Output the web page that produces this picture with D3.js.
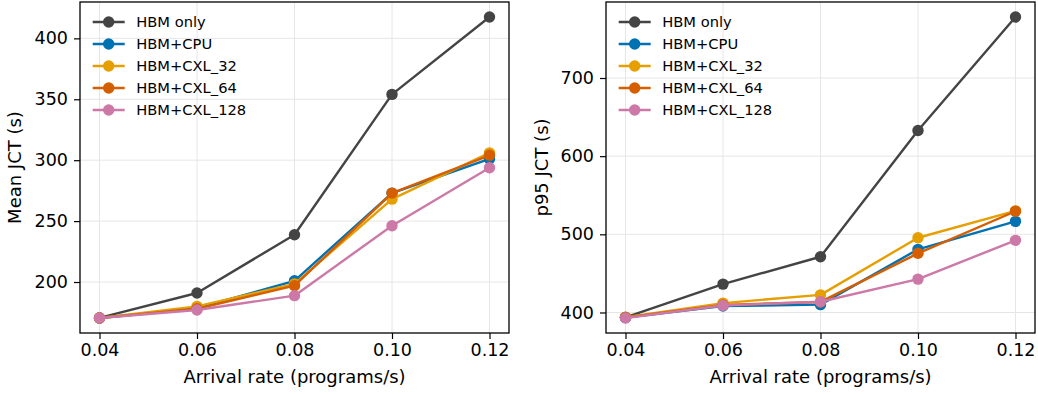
<!DOCTYPE html>
<html>
<head>
<meta charset="utf-8">
<script src="https://cdn.jsdelivr.net/npm/d3@7/dist/d3.min.js"></script>
<style>
  html, body { margin: 0; padding: 0; background: #fff; }
  svg { display: block; font-family: "DejaVu Sans", sans-serif; }
</style>
</head>
<body>
<svg id="chart" width="1038" height="394"></svg>
<script>
// ---- Data ----
const arrivalRates = [0.04, 0.06, 0.08, 0.10, 0.12];
const seriesNames = ["HBM only", "HBM+CPU", "HBM+CXL_32", "HBM+CXL_64", "HBM+CXL_128"];
const seriesColors = ["#444444", "#0072B2", "#E69F00", "#D55E00", "#CC79A7"];

const meanHBMOnly = [170.5, 191, 238.8, 354, 417.5];
const meanHBMCPU  = [170.5, 178.5, 201, 273, 301];
const meanCXL32   = [170.5, 180, 198.5, 268, 306];
const meanCXL64   = [170.5, 178, 197, 273, 304];
const meanCXL128  = [170.5, 177, 188.8, 246.2, 293.8];

const p95HBMOnly = [393.6, 436.3, 471.3, 632.8, 778];
const p95HBMCPU  = [393.6, 408.3, 410, 480.8, 516.6];
const p95CXL32   = [394, 412, 422.5, 495.6, 530];
const p95CXL64   = [393.8, 409.5, 413.5, 475.7, 529.5];
const p95CXL128  = [393, 409, 413.7, 442.7, 492.3];

const xTicks = [0.04, 0.06, 0.08, 0.10, 0.12];
const meanYTicks = [200, 250, 300, 350, 400];
const p95YTicks = [400, 500, 600, 700];

const panels = [
  { ylabel: "Mean JCT (s)", series: [meanHBMOnly, meanHBMCPU, meanCXL32, meanCXL64, meanCXL128], yTicks: meanYTicks, left: 80 },
  { ylabel: "p95 JCT (s)", series: [p95HBMOnly, p95HBMCPU, p95CXL32, p95CXL64, p95CXL128], yTicks: p95YTicks, left: 606 }
];

// ---- Drawing ----
const svg = d3.select("#chart");
const plotTop = 2, plotBottom = 333, plotWidth = 429;

function padded(ext) {
  const m = (ext[1] - ext[0]) * 0.05;
  return [ext[0] - m, ext[1] + m];
}

panels.forEach(p => {
  const g = svg.append("g").attr("transform", `translate(${p.left},0)`);
  const x = d3.scaleLinear().domain(padded(d3.extent(arrivalRates))).range([0, plotWidth]);
  const allY = p.series.flat();
  const y = d3.scaleLinear().domain(padded(d3.extent(allY))).range([plotBottom, plotTop]);

  // grid
  g.append("g").selectAll("line").data(xTicks).join("line")
    .attr("x1", d => x(d)).attr("x2", d => x(d)).attr("y1", plotTop).attr("y2", plotBottom)
    .attr("stroke", "#e6e6e6").attr("stroke-width", 1);
  g.append("g").selectAll("line").data(p.yTicks).join("line")
    .attr("y1", d => y(d)).attr("y2", d => y(d)).attr("x1", 0).attr("x2", plotWidth)
    .attr("stroke", "#e6e6e6").attr("stroke-width", 1);

  // series
  const line = d3.line().x((d, i) => x(arrivalRates[i])).y(d => y(d));
  p.series.forEach((vals, si) => {
    g.append("path").datum(vals).attr("d", line)
      .attr("fill", "none").attr("stroke", seriesColors[si]).attr("stroke-width", 2.4)
      .attr("stroke-linejoin", "round");
    g.append("g").selectAll("circle").data(vals).join("circle")
      .attr("cx", (d, i) => x(arrivalRates[i])).attr("cy", d => y(d)).attr("r", 5.7)
      .attr("fill", seriesColors[si]);
  });

  // axes
  const xAxis = d3.axisBottom(x).tickValues(xTicks).tickFormat(d3.format(".2f")).tickSize(6).tickPadding(5);
  const xg = g.append("g").attr("transform", `translate(0,${plotBottom})`).call(xAxis);
  xg.select(".domain").remove();
  xg.selectAll("line").attr("stroke", "#000").attr("stroke-width", 1.2);
  xg.selectAll("text").attr("font-size", 17.5).attr("fill", "#000").attr("font-family", "DejaVu Sans");

  const yAxis = d3.axisLeft(y).tickValues(p.yTicks).tickFormat(d3.format("d")).tickSize(6).tickPadding(6);
  const yg = g.append("g").call(yAxis);
  yg.select(".domain").remove();
  yg.selectAll("line").attr("stroke", "#000").attr("stroke-width", 1.2);
  yg.selectAll("text").attr("font-size", 17.5).attr("fill", "#000").attr("font-family", "DejaVu Sans");

  // frame
  g.append("rect").attr("x", 0).attr("y", plotTop).attr("width", plotWidth).attr("height", plotBottom - plotTop)
    .attr("fill", "none").attr("stroke", "#000").attr("stroke-width", 1.3);

  // labels
  g.append("text").attr("x", plotWidth / 2).attr("y", 383)
    .attr("text-anchor", "middle").attr("font-size", 18).text("Arrival rate (programs/s)");
  g.append("text").attr("transform", `translate(${p.left === 80 ? -59 : -58},${(plotTop + plotBottom) / 2}) rotate(-90)`)
    .attr("text-anchor", "middle").attr("font-size", 18).text(p.ylabel);

  // legend
  const lg = g.append("g").attr("transform", "translate(12.7,22)");
  seriesNames.forEach((name, i) => {
    const row = lg.append("g").attr("transform", `translate(0,${i * 22})`);
    row.append("line").attr("x1", 0).attr("x2", 32).attr("y1", 0).attr("y2", 0)
      .attr("stroke", seriesColors[i]).attr("stroke-width", 2.4);
    row.append("circle").attr("cx", 16).attr("cy", 0).attr("r", 5.7).attr("fill", seriesColors[i]);
    row.append("text").attr("x", 43.5).attr("y", 0).attr("dy", "0.36em")
      .attr("font-size", 14.7).attr("fill", "#000").text(name);
  });
});
</script>
</body>
</html>
